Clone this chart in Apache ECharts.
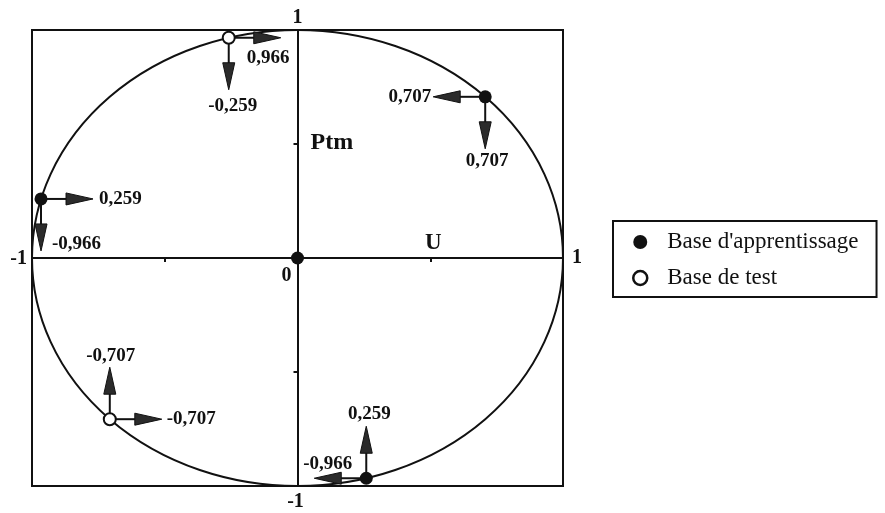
<!DOCTYPE html>
<html><head><meta charset="utf-8">
<script src="https://cdn.jsdelivr.net/npm/echarts@6/dist/echarts.min.js"></script>
<style>html,body{margin:0;padding:0;background:#fff}#c{width:885px;height:513px}</style>
</head><body><div id="c"></div>
<script>
// ---- data ----
const learnName = "Base d'apprentissage";
const testName = 'Base de test';
const learnX = [0, 0.707, -0.966, 0.259];
const learnY = [0, 0.707, 0.259, -0.966];
const testX = [-0.259, -0.707];
const testY = [0.966, -0.707];
const arrowX = [0.707, 0.707, -0.259, -0.259, -0.966, -0.966, -0.707, -0.707, 0.259, 0.259];
const arrowY = [0.707, 0.707, 0.966, 0.966, 0.259, 0.259, -0.707, -0.707, -0.966, -0.966];
const arrowDir = ['left', 'down', 'right', 'down', 'right', 'down', 'up', 'right', 'up', 'left'];
const arrowText = ['0,707', '0,707', '0,966', '-0,259', '0,259', '-0,966', '-0,707', '-0,707', '0,259', '-0,966'];
const tickText = ['-1', '1', '1', '-1', '0'];
const tickX = [-1, 1, 0, 0, 0];
const tickY = [0, 0, 1, -1, 0];
const titleText = ['U', 'Ptm'];
const titleX = [0.5, 0];
const titleY = [0, 0.5];
const circleCenterX = [0];
const circleCenterY = [0];
const circleRadius = [1];

// ---- styles (pixel offsets) ----
const arrowLen = 52, headLen = 27, headHalf = 6;
const DIRS = {left: [-1, 0], right: [1, 0], up: [0, -1], down: [0, 1]};
const arrowLabelStyle = [[-2, 0, 'right'], [2, 12, 'center'], [-34, 20, 'left'], [4, 16, 'center'], [6, 0, 'left'],
  [11, -7, 'left'], [1, -11, 'center'], [5, 0, 'left'], [3, -12, 'center'], [-11, -14, 'left']];
const tickLabelStyle = [[-5, 1, 'right'], [9, 0, 'left'], [0, -12, 'center'], [-2, 16, 'center'], [-11, 18, 'center']];
const titleStyle = [[3, -15, 'center', 23], [13, -1, 'left', 24]];
const INK = '#111';
const SERIF = '"Liberation Serif", "Times New Roman", serif';

const chart = echarts.init(document.getElementById('c'), null, {renderer: 'canvas'});

const textItems = [];
tickText.forEach((t, i) => textItems.push([tickX[i], tickY[i], 0, i]));
titleText.forEach((t, i) => textItems.push([titleX[i], titleY[i], 1, i]));

chart.setOption({
  animation: false,
  backgroundColor: '#fff',
  grid: {left: 32, top: 30, width: 531, height: 456, show: true, borderColor: INK, borderWidth: 2, backgroundColor: 'transparent'},
  xAxis: {type: 'value', min: -1, max: 1, interval: 0.5,
    axisLine: {onZero: true, lineStyle: {color: INK, width: 2}},
    axisTick: {show: true, length: 4, lineStyle: {color: INK, width: 2}},
    axisLabel: {show: false}, splitLine: {show: false}},
  yAxis: {type: 'value', min: -1, max: 1, interval: 0.5,
    axisLine: {show: true, onZero: true, lineStyle: {color: INK, width: 2}},
    axisTick: {show: true, length: 4, lineStyle: {color: INK, width: 2}},
    axisLabel: {show: false}, splitLine: {show: false}},
  legend: {
    orient: 'vertical', left: 613, top: 221, selectedMode: false,
    borderColor: INK, borderWidth: 2, padding: [9, 18, 7, 19],
    itemWidth: 44, itemHeight: 14, itemGap: 12, icon: 'circle',
    textStyle: {fontFamily: SERIF, fontSize: 23, color: INK, lineHeight: 24},
    data: [
      {name: learnName, itemStyle: {color: INK, borderWidth: 0}},
      {name: testName, itemStyle: {color: '#fff', borderColor: INK, borderWidth: 2.5}}
    ]
  },
  series: [
    {
      type: 'custom', name: 'circle', silent: true, z: 1,
      data: circleCenterX.map((x, i) => [x, circleCenterY[i], circleRadius[i]]),
      renderItem: function (params, api) {
        const cx0 = api.value(0), cy0 = api.value(1), r = api.value(2);
        const c = api.coord([cx0, cy0]);
        const px = api.coord([cx0 + r, cy0]);
        const py = api.coord([cx0, cy0 + r]);
        const rx = px[0] - c[0], ry = c[1] - py[1];
        const d = 'M' + (c[0] - rx) + ',' + c[1] + 'A' + rx + ',' + ry + ',0,1,0,' + (c[0] + rx) + ',' + c[1] +
          'A' + rx + ',' + ry + ',0,1,0,' + (c[0] - rx) + ',' + c[1] + 'Z';
        return {type: 'path', shape: {pathData: d}, style: {fill: 'none', stroke: INK, lineWidth: 2}};
      }
    },
    {
      type: 'custom', name: 'arrows', silent: true, z: 3,
      data: arrowX.map((x, i) => [x, arrowY[i], i]),
      encode: {x: 0, y: 1},
      renderItem: function (params, api) {
        const i = api.value(2);
        const p = api.coord([api.value(0), api.value(1)]);
        const d = DIRS[arrowDir[i]];
        const tip = [p[0] + d[0] * arrowLen, p[1] + d[1] * arrowLen];
        const base = [tip[0] - d[0] * headLen, tip[1] - d[1] * headLen];
        const perp = [-d[1], d[0]];
        const ls = arrowLabelStyle[i];
        return {type: 'group', children: [
          {type: 'line', shape: {x1: p[0], y1: p[1], x2: base[0] + d[0] * 2, y2: base[1] + d[1] * 2}, style: {stroke: INK, lineWidth: 2}},
          {type: 'polygon', shape: {points: [tip,
            [base[0] + perp[0] * headHalf, base[1] + perp[1] * headHalf],
            [base[0] - perp[0] * headHalf, base[1] - perp[1] * headHalf]]},
            style: {fill: '#2b2b2b', stroke: INK, lineWidth: 1}},
          {type: 'text', x: tip[0] + ls[0], y: tip[1] + ls[1],
            style: {text: arrowText[i], fill: INK, fontFamily: SERIF, fontWeight: 'bold', fontSize: 19,
              align: ls[2], verticalAlign: 'middle'}}
        ]};
      }
    },
    {
      type: 'custom', name: 'texts', silent: true, z: 4,
      data: textItems,
      encode: {x: 0, y: 1},
      renderItem: function (params, api) {
        const kind = api.value(2), i = api.value(3);
        const p = api.coord([api.value(0), api.value(1)]);
        const st = kind === 0 ? tickLabelStyle[i] : titleStyle[i];
        const txt = kind === 0 ? tickText[i] : titleText[i];
        const fs = kind === 0 ? 20 : st[3];
        return {type: 'text', x: p[0] + st[0], y: p[1] + st[1],
          style: {text: txt, fill: INK, fontFamily: SERIF, fontWeight: 'bold', fontSize: fs, align: st[2], verticalAlign: 'middle'}};
      }
    },
    {
      type: 'scatter', name: learnName, z: 5,
      data: learnX.map((x, i) => [x, learnY[i]]),
      symbol: 'circle', symbolSize: 13,
      itemStyle: {color: INK, opacity: 1}
    },
    {
      type: 'scatter', name: testName, z: 5,
      data: testX.map((x, i) => [x, testY[i]]),
      symbol: 'circle', symbolSize: 12,
      itemStyle: {color: '#fff', borderColor: INK, borderWidth: 2, opacity: 1}
    }
  ]
});
</script>
</body></html>
